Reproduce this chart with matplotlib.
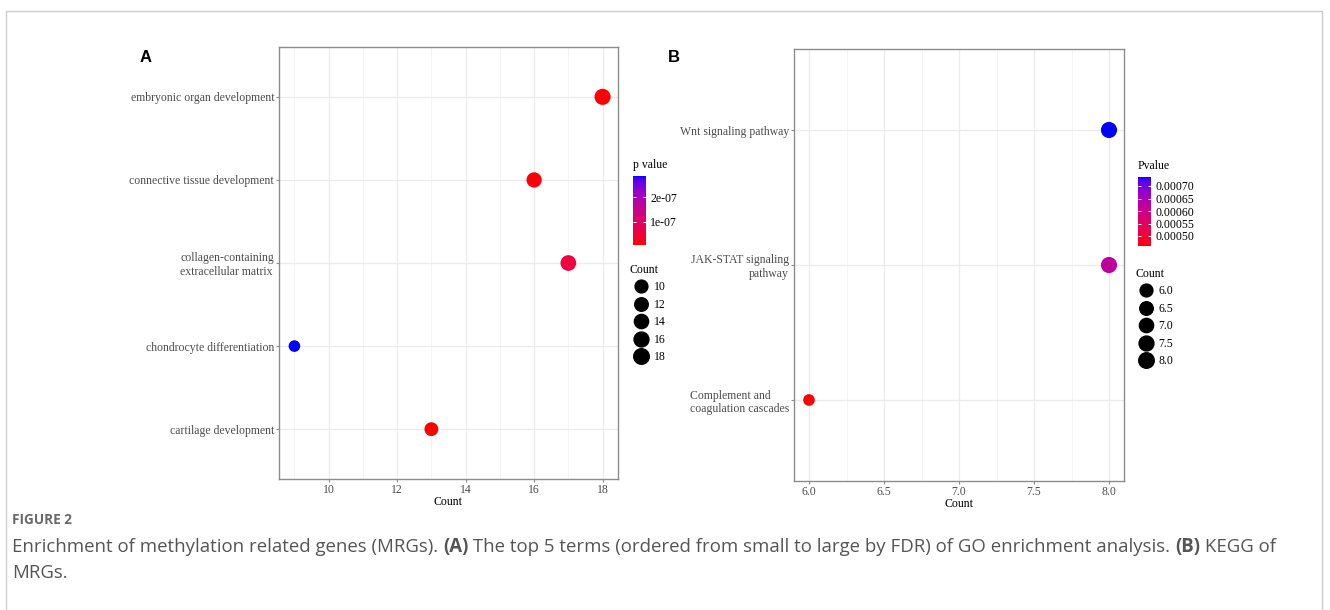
import matplotlib

matplotlib.use("Agg")
import matplotlib.pyplot as plt
import numpy as np
from matplotlib.colors import ListedColormap
from matplotlib.lines import Line2D
from matplotlib.transforms import ScaledTranslation

# ---- data -----------------------------------------------------------------
# GO terms, listed bottom to top (ggplot factor order)
go_terms = [
    "cartilage development",
    "chondrocyte differentiation",
    "collagen-containing\nextracellular matrix",
    "connective tissue development",
    "embryonic organ development",
]
go_align = ["right", "right", "left", "right", "right"]
go_count = [13, 9, 17, 16, 18]
go_pvalue = [8e-09, 2.84e-07, 6e-08, 1.2e-08, 1.0e-08]
go_cbar_ticks = [1e-07, 2e-07]
go_cbar_labels = ["1e-07", "2e-07"]
go_size_breaks = [10, 12, 14, 16, 18]
go_x_ticks = [10, 12, 14, 16, 18]

kegg_terms = [
    "Complement and\ncoagulation cascades",
    "JAK-STAT signaling\npathway",
    "Wnt signaling pathway",
]
kegg_align = ["left", "right", "right"]
kegg_count = [6, 8, 8]
kegg_pvalue = [0.00046, 0.00062, 0.000736]
kegg_cbar_ticks = [0.00050, 0.00055, 0.00060, 0.00065, 0.00070]
kegg_cbar_labels = ["0.00050", "0.00055", "0.00060", "0.00065", "0.00070"]
kegg_size_breaks = [6.0, 6.5, 7.0, 7.5, 8.0]
kegg_x_ticks = [6.0, 6.5, 7.0, 7.5, 8.0]

W, H = 1330, 610
SERIF = "Liberation Serif"
CAPTION_FONT = ["Open Sans", "Noto Sans", "DejaVu Sans"]


def _srgb_to_lab(rgb):
    c = np.asarray(rgb, dtype=float)
    c = np.where(c <= 0.04045, c / 12.92, ((c + 0.055) / 1.055) ** 2.4)
    m = np.array([[0.4124, 0.3576, 0.1805],
                  [0.2126, 0.7152, 0.0722],
                  [0.0193, 0.1192, 0.9505]])
    xyz = m @ c / np.array([0.95047, 1.0, 1.08883])
    f = np.where(xyz > 0.008856, np.cbrt(xyz), 7.787 * xyz + 16 / 116)
    return np.array([116 * f[1] - 16, 500 * (f[0] - f[1]), 200 * (f[1] - f[2])])


def _lab_to_srgb(lab):
    L, a, b = lab
    fy_ = (L + 16) / 116
    f = np.array([fy_ + a / 500, fy_, fy_ - b / 200])
    xyz = np.where(f ** 3 > 0.008856, f ** 3, (f - 16 / 116) / 7.787)
    xyz = xyz * np.array([0.95047, 1.0, 1.08883])
    m = np.array([[3.2406, -1.5372, -0.4986],
                  [-0.9689, 1.8758, 0.0415],
                  [0.0557, -0.2040, 1.0570]])
    c = m @ xyz
    c = np.where(c <= 0.0031308, 12.92 * c, 1.055 * np.clip(c, 0, None) ** (1 / 2.4) - 0.055)
    return np.clip(c, 0, 1)


def red_blue_lab():
    # ggplot2 scale_colour_gradient(low = "red", high = "blue") interpolates in Lab
    lo, hi = _srgb_to_lab([1, 0, 0]), _srgb_to_lab([0, 0, 1])
    cols = [_lab_to_srgb(lo + t * (hi - lo)) for t in np.linspace(0, 1, 256)]
    return ListedColormap(cols)


CMAP = red_blue_lab()


def size_map(values, vmin, vmax, smin=70.0, smax=135.0):
    v = np.asarray(values, dtype=float)
    return smin + (v - vmin) / (vmax - vmin) * (smax - smin)


def fx(px):
    return px / W


def fy(py):
    return 1 - py / H


def dot_panel(fig, rect, terms, aligns, counts, pvals, xticks, minor_step,
              cax_rect, cbar_title, cbar_ticks, cbar_labels, size_breaks, leg_xy):
    ax = fig.add_axes(rect)
    pos = np.arange(1, len(terms) + 1)
    cmin, cmax = min(counts), max(counts)
    sc = ax.scatter(counts, pos, s=size_map(counts, cmin, cmax), c=pvals, cmap=CMAP,
                    vmin=min(pvals), vmax=max(pvals), linewidths=0, zorder=3)
    pad = 0.05 * (cmax - cmin)
    ax.set_xticks(xticks)
    ax.set_xticklabels([f"{t:g}" if cmax > 10 else f"{t:.1f}" for t in xticks])
    ax.set_xticks(np.arange(xticks[0] - minor_step, cmax + pad, minor_step * 2), minor=True)
    ax.set_xlim(cmin - pad, cmax + pad)
    ax.set_ylim(0.4, len(terms) + 0.6)
    ax.set_yticks(pos)
    ax.set_yticklabels(terms)
    shift = ScaledTranslation(0, -4.5 / 100, fig.dpi_scale_trans)
    for lab, al, term in zip(ax.get_yticklabels(), aligns, terms):
        lab.set_multialignment(al)
        if "\n" in term:
            lab.set_transform(lab.get_transform() + shift)
    ax.grid(True, which="major", color="#ebebeb", lw=0.9, zorder=0)
    ax.grid(True, which="minor", axis="x", color="#f2f2f2", lw=0.6, zorder=0)
    ax.set_axisbelow(True)
    for sp in ax.spines.values():
        sp.set_color("#8c8c8c")
        sp.set_linewidth(1.0)
    ax.tick_params(axis="both", which="major", length=2.5, color="#8c8c8c", width=0.8,
                   labelsize=8.5, labelcolor="#4d4d4d", pad=1)
    ax.tick_params(axis="x", which="minor", length=0)
    for lab in ax.get_xticklabels() + ax.get_yticklabels():
        lab.set_fontfamily(SERIF)
    ax.set_xlabel("Count", fontfamily=SERIF, fontsize=8.5, labelpad=0)

    cax = fig.add_axes(cax_rect)
    cb = fig.colorbar(sc, cax=cax)
    cb.outline.set_visible(False)
    cb.set_ticks(cbar_ticks)
    cb.set_ticklabels(cbar_labels)
    cax.tick_params(left=True, right=True, direction="in", color="white", length=2.5,
                    width=0.7, labelsize=8.5, pad=3)
    for lab in cax.get_yticklabels():
        lab.set_fontfamily(SERIF)
    fig.text(cax_rect[0], cax_rect[1] + cax_rect[3] + 0.008, cbar_title,
             fontfamily=SERIF, fontsize=8.5, va="bottom", ha="left")

    handles = [Line2D([], [], ls="none", marker="o", color="black",
                      markersize=np.sqrt(size_map(b, min(size_breaks), max(size_breaks), 85, 125)))
               for b in size_breaks]
    labels = [f"{b:g}" if cmax > 10 else f"{b:.1f}" for b in size_breaks]
    leg = fig.legend(handles, labels, title="Count", loc="upper left",
                     bbox_to_anchor=leg_xy, frameon=False, borderpad=0, borderaxespad=0,
                     prop={"family": SERIF, "size": 8.5}, labelspacing=0.46,
                     handlelength=1.8, handletextpad=0.2, alignment="left")
    leg.get_title().set_fontfamily(SERIF)
    leg.get_title().set_fontsize(8.5)
    return ax


def rich_line(fig, x_px, y_px, runs, **kw):
    renderer = fig.canvas.get_renderer()
    x = x_px
    for text, weight in runs:
        t = fig.text(fx(x), fy(y_px), text, fontweight=weight, va="center", ha="left", **kw)
        x += t.get_window_extent(renderer).width


def main():
    fig = plt.figure(figsize=(W / 100, H / 100), dpi=100)

    dot_panel(fig, [fx(279), fy(479), fx(618) - fx(279), fy(47) - fy(479)],
              go_terms, go_align, go_count, go_pvalue, go_x_ticks, 1,
              [fx(633), fy(245), fx(13), 69 / H], "p value", go_cbar_ticks, go_cbar_labels,
              go_size_breaks, (fx(630), fy(264)))
    dot_panel(fig, [fx(794), fy(481), fx(1124) - fx(794), fy(49) - fy(481)],
              kegg_terms, kegg_align, kegg_count, kegg_pvalue, kegg_x_ticks, 0.25,
              [fx(1138), fy(246), fx(13), 69 / H], "Pvalue", kegg_cbar_ticks, kegg_cbar_labels,
              kegg_size_breaks, (fx(1135), fy(268)))

    for label, x in (("A", 146), ("B", 674)):
        fig.text(fx(x), fy(57), label, fontfamily="Liberation Sans", fontweight="bold",
                 fontsize=12, ha="center", va="center")

    # outer figure frame (open at the bottom)
    frame = dict(color="#cccccc", lw=1.0, transform=fig.transFigure)
    fig.add_artist(Line2D([fx(6), fx(6), fx(1322), fx(1322)], [0, fy(11), fy(11), 0], **frame))

    cap = dict(family=CAPTION_FONT, color="#555555", fontsize=13.45)
    fig.text(fx(12), fy(520), "FIGURE 2", family=CAPTION_FONT, color="#6a6a6a",
             fontsize=9.8, fontweight="bold", va="center", ha="left")
    rich_line(fig, 12, 547, [
        ("Enrichment of methylation related genes (MRGs). ", "normal"),
        ("(A)", "bold"),
        (" The top 5 terms (ordered from small to large by FDR) of GO enrichment analysis. ", "normal"),
        ("(B)", "bold"),
        (" KEGG of", "normal"),
    ], **cap)
    rich_line(fig, 12, 573, [("MRGs.", "normal")], **cap)

    fig.savefig("out.png", dpi=100)
    plt.close(fig)
    return 0


if __name__ == "__main__":
    raise SystemExit(main())
